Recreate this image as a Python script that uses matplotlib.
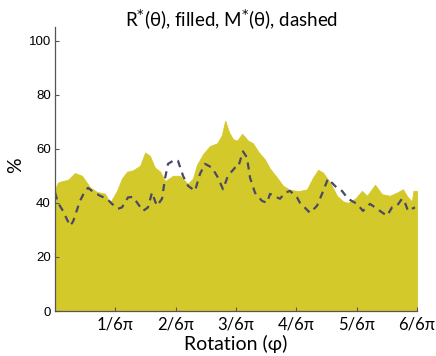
import numpy as np
import matplotlib.pyplot as plt

# R*(theta): rotation in units of pi, value in %
r_phi = [0.0, 0.0083, 0.0193, 0.0359, 0.0552, 0.0746, 0.0967, 0.116, 0.138, 0.152,
         0.171, 0.185, 0.199, 0.215, 0.235, 0.249, 0.262, 0.276, 0.290, 0.304,
         0.326, 0.345, 0.367, 0.381, 0.392, 0.409, 0.428, 0.448, 0.461, 0.470,
         0.481, 0.492, 0.503, 0.517, 0.533, 0.547, 0.561, 0.580, 0.594, 0.613,
         0.630, 0.649, 0.669, 0.677, 0.696, 0.713, 0.727, 0.740, 0.760, 0.779,
         0.796, 0.809, 0.829, 0.848, 0.862, 0.884, 0.903, 0.925, 0.945, 0.961,
         0.975, 0.986, 0.990, 1.0]
r_val = [45, 47.5, 48, 48.5, 51, 50, 45.7, 44, 43.4, 40,
         44.4, 49, 51.5, 52, 53.7, 58.6, 57.4, 53, 51.6, 48,
         50, 50, 47, 49, 54, 58, 61, 62, 65, 70.4,
         66, 63.5, 63, 65.5, 63, 62, 59, 56, 52.6, 49.4,
         46.3, 44.8, 44.4, 44.4, 45, 49.4, 52.2, 51.2, 47.5, 42.6,
         40.5, 40, 41.5, 44.4, 42.6, 46.7, 43.2, 42.6, 43.8, 45,
         42, 40.5, 44.4, 44.4]

# M*(theta), rotation as fraction of pi
m_phi = [0.0, 0.0083, 0.0221, 0.0414, 0.0497, 0.0691, 0.0829, 0.0912, 0.1022, 0.1243,
         0.1436, 0.1575, 0.1740, 0.1851, 0.2017, 0.2155, 0.2293, 0.2431, 0.2569, 0.2680,
         0.2762, 0.2818, 0.2956, 0.3039, 0.3122, 0.3315, 0.3398, 0.3536, 0.3674, 0.3867,
         0.4006, 0.4144, 0.4337, 0.4503, 0.4641, 0.4779, 0.4972, 0.5055, 0.5193, 0.5304,
         0.5387, 0.5525, 0.5718, 0.5856, 0.5939, 0.6133, 0.6215, 0.6354, 0.6492, 0.6685,
         0.6768, 0.7044, 0.7238, 0.7376, 0.7541, 0.7790, 0.7928, 0.8094, 0.8343, 0.8508,
         0.8702, 0.8978, 0.9171, 0.9309, 0.9448, 0.9586, 0.9669, 0.9751, 0.9862, 0.9945]
m_val = [43.8, 40, 37, 31.5, 33, 40.7, 44.4, 45.5, 44.4, 42.6, 41.5, 39.6, 37.8, 38.3,
         42, 42.2, 39.6, 37, 38.3, 43.8, 40.7, 38.9, 41.5, 49, 54.4, 56, 55.5, 50,
         46.3, 44.4, 50.7, 54.4, 53, 49.3, 45, 50, 53, 53, 59, 56.7, 49.3, 43.7,
         40.7, 40, 43.3, 42, 41.5, 43.7, 44.4, 42, 40, 36.3, 38.9, 43.3, 48.9, 45.5,
         44.4, 41.5, 39.6, 37, 39.6, 37, 35.2, 38.3, 38.9, 41.5, 40, 37, 37.8, 38.3]

xtick_labels = ['1/6π', '2/6π', '3/6π', '4/6π', '5/6π', '6/6π']

fig = plt.figure(figsize=(4.36, 3.56), dpi=100)
ax = fig.add_axes([55 / 436, 45 / 356, 362 / 436, 284 / 356])

x_r = np.array(r_phi) * np.pi
x_m = np.array(m_phi) * np.pi
ax.fill_between(x_r, 0, r_val, color='#d4c92b', linewidth=0.6, edgecolor='#d4c92b')
ax.plot(x_m, m_val, color='#4a4866', linewidth=1.6, dashes=(3.2, 2.6))

ax.set_xlim(0, np.pi)
ax.set_ylim(0, 105)
ax.set_xticks(np.arange(1, 7) * np.pi / 6)
ax.set_xticklabels(xtick_labels, fontfamily='Lato', fontsize=12)
ax.set_yticks([0, 20, 40, 60, 80, 100])
ax.tick_params(axis='y', direction='in', length=3, labelsize=9.5, pad=3, color='#555555')
ax.tick_params(axis='x', direction='in', length=3, pad=4, color='#555555')
for lbl in ax.get_yticklabels():
    lbl.set_fontfamily('Liberation Sans')

for side in ['top', 'right']:
    ax.spines[side].set_visible(False)
for side in ['left', 'bottom']:
    ax.spines[side].set_color('#555555')
    ax.spines[side].set_linewidth(0.9)

ax.set_xlabel('Rotation (φ)', fontfamily='Lato', fontsize=14, labelpad=2)
fig.text(16 / 436, 1 - 165 / 356, '%', rotation=90, fontfamily='Lato', fontsize=14,
         ha='center', va='center')
fig.text(232 / 436, 1 - 20 / 356, r'R$^{*}$(θ), filled, M$^{*}$(θ), dashed',
         fontfamily='Lato', fontsize=13.5, ha='center', va='center')

fig.savefig('out.png', dpi=100)
